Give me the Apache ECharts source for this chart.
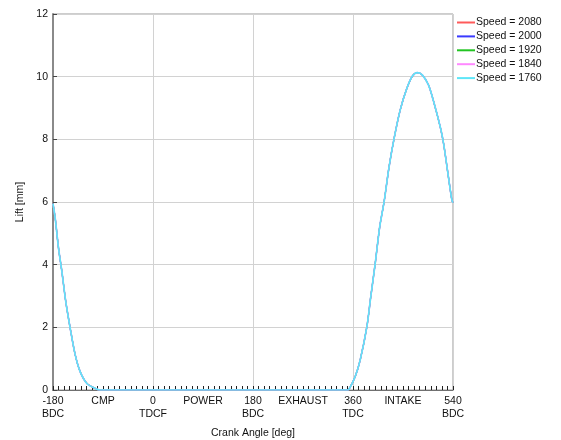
<!DOCTYPE html>
<html>
<head>
<meta charset="utf-8">
<script src="https://cdn.jsdelivr.net/npm/echarts@6/dist/echarts.min.js"></script>
<style>
  html, body { margin: 0; padding: 0; background: #fff; }
  #chart { width: 561px; height: 440px; }
</style>
</head>
<body>
<div id="chart"></div>
<script>
// Valve lift versus crank angle for several engine speeds
const speeds = [2080, 2000, 1920, 1840, 1760];
const speedColors = ['#ff5a5a', '#3a3aff', '#22c422', '#ff88ff', '#5ee6f8'];

// Crank angle [deg] and lift [mm] samples of the lift profile
const crankAngle = [-180, -176, -170, -164, -157, -149, -140, -131, -119, -104, -95,
  350, 353, 364, 373, 385, 392, 400, 408, 416, 425, 434, 445, 457, 467, 476, 485,
  496, 506, 517, 523, 530, 538, 540];
const lift = [5.95, 5.48, 4.52, 3.78, 2.82, 1.97, 1.12, 0.58, 0.21, 0.05, 0,
  0, 0.03, 0.43, 0.96, 2.02, 2.98, 4.04, 5.2, 6.01, 7.13, 8.03, 8.94, 9.63, 10.02, 10.13, 10.05,
  9.73, 9.15, 8.4, 7.87, 7.02, 6.06, 5.98];

// Crank-angle tick labels (value + stroke / dead-centre name)
const tickAngles = [-180, -90, 0, 90, 180, 270, 360, 450, 540];
const tickLabels = ['-180\nBDC', 'CMP', '0\nTDCF', 'POWER', '180\nBDC', 'EXHAUST', '360\nTDC', 'INTAKE', '540\nBDC'];

const font = 'Liberation Sans, Arial, sans-serif';
const chart = echarts.init(document.getElementById('chart'), null, { renderer: 'canvas' });

const points = crankAngle.map((a, i) => [a, lift[i]]);

const series = speeds.map((s, i) => ({
  name: 'Speed = ' + s,
  type: 'line',
  data: points,
  showSymbol: false,
  smooth: 0.3,
  lineStyle: { color: speedColors[i], width: i >= 3 ? 1.6 : 1.2 },
  itemStyle: { color: speedColors[i] },
  emphasis: { disabled: true }
}));

chart.setOption({
  animation: false,
  backgroundColor: '#ffffff',
  textStyle: { fontFamily: font },
  grid: {
    left: 53, right: 108, top: 14, bottom: 50,
    outerBoundsMode: 'none', containLabel: false,
    show: true, borderColor: '#9a9a9a', borderWidth: 1, backgroundColor: 'transparent'
  },
  legend: {
    left: 452, top: 12, orient: 'vertical',
    itemWidth: 18, itemHeight: 2, itemGap: 2.9,
    icon: 'rect',
    textStyle: { fontSize: 10.5, color: '#111', fontFamily: font, padding: [0, 0, 0, -4] },
    data: series.map(s => s.name)
  },
  xAxis: [
    {
      type: 'value', min: -180, max: 540, interval: 90, position: 'bottom',
      name: 'Crank Angle [deg]', nameLocation: 'middle', nameGap: 38,
      nameTextStyle: { fontSize: 10.5, color: '#111' },
      axisLine: { show: true, onZero: false, lineStyle: { color: '#707070', width: 1.2 } },
      axisTick: { show: true, inside: true, length: 4, lineStyle: { color: '#222' } },
      minorTick: { show: true, splitNumber: 9, length: 4, lineStyle: { color: '#222' } },
      splitLine: { show: false },
      axisLabel: {
        fontSize: 10.5, color: '#111', margin: 5, lineHeight: 13,
        showMinLabel: true, showMaxLabel: true,
        formatter: v => { const k = tickAngles.indexOf(v); return k >= 0 ? tickLabels[k] : ''; }
      }
    },
    {
      type: 'value', min: -180, max: 540, interval: 180, position: 'top',
      axisLine: { show: false }, axisTick: { show: false }, axisLabel: { show: false },
      splitLine: { show: true, lineStyle: { color: '#d2d2d2', width: 1 } }
    }
  ],
  yAxis: {
    type: 'value', min: 0, max: 12, interval: 2,
    name: 'Lift [mm]', nameLocation: 'middle', nameGap: 22, nameRotate: 90,
    nameTextStyle: { fontSize: 10.5, color: '#111' },
    axisLine: { show: true, onZero: false, lineStyle: { color: '#8a8a8a', width: 2 } },
    axisTick: { show: true, inside: true, length: 4, lineStyle: { color: '#444' } },
    splitLine: { show: true, lineStyle: { color: '#d2d2d2', width: 1 } },
    axisLabel: { fontSize: 10.5, color: '#111', margin: 5 }
  },
  series: series
});
</script>
</body>
</html>
